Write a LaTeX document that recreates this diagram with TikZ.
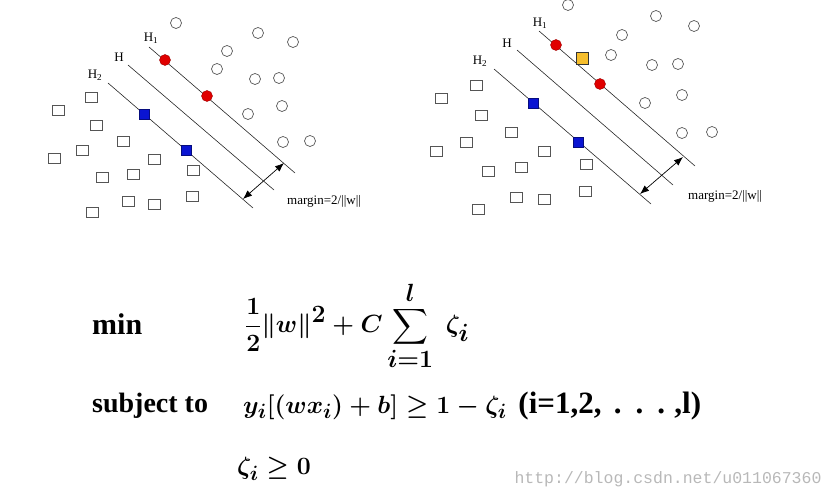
\documentclass[tikz,border=0pt]{standalone}
\usepackage{fontspec}
\usepackage{amsmath}
\usepackage{tikz}
\usepackage{xcolor}
\usetikzlibrary{arrows.meta}
\setmainfont{Liberation Serif}
\newfontfamily\webmono{Liberation Mono}
\definecolor{SvRed}{HTML}{E00000}
\definecolor{SvBlue}{HTML}{0A14D2}
\definecolor{SvGold}{HTML}{F6BE2C}
\definecolor{PtGray}{HTML}{555555}
\definecolor{MarkGray}{HTML}{B8B8B8}

\begin{document}
\begin{tikzpicture}[x=1pt, y=-1pt,
    posdot/.style={circle, draw=PtGray, line width=0.7pt, minimum size=11pt, inner sep=0pt},
    negbox/.style={rectangle, draw=PtGray, line width=0.7pt, minimum width=12pt, minimum height=10pt, inner sep=0pt},
    svdot/.style={circle, draw=SvRed!70!black, fill=SvRed, minimum size=11pt, inner sep=0pt},
    svbox/.style={rectangle, draw=SvBlue!60!black, fill=SvBlue, minimum size=10pt, inner sep=0pt},
    plane/.style={line width=0.6pt, black!85},
    lab/.style={font=\fontsize{13}{13}\selectfont, inner sep=0pt},
    margarrow/.style={{Latex[length=9pt,width=7pt]}-{Latex[length=9pt,width=7pt]}, line width=0.7pt},
    bigtext/.style={font=\fontsize{30}{32}\selectfont\bfseries, inner sep=0pt, anchor=west}
  ]
    \useasboundingbox (0,0) rectangle (837,502);

    % left panel: the separating plane and its margin
    \foreach \px/\py [count=\k] in {176/23, 258/33, 293/42, 227/51, 217/69, 255/79, 279/78, 282/106, 248/114, 283/142, 310/141}
      \node[posdot] (lp\k) at (\px,\py) {};
    \foreach \px/\py [count=\k] in {91/97, 58/110, 96/125, 123/141, 82/150, 54/158, 154/159, 102/177, 133/174, 193/170, 128/201, 154/204, 192/196, 92/212}
      \node[negbox] (ln\k) at (\px,\py) {};

    \coordinate (lh1a) at (149,47);  \coordinate (lh1b) at (295,173);
    \coordinate (lha)  at (128,65);  \coordinate (lhb)  at (274,190);
    \coordinate (lh2a) at (108,83);  \coordinate (lh2b) at (253,208);
    \draw[plane] (lh1a) -- (lh1b);
    \draw[plane] (lha) -- (lhb);
    \draw[plane] (lh2a) -- (lh2b);

    \node[svdot] (lsv1) at (165,60) {};
    \node[svdot] (lsv2) at (207,96) {};
    \node[svbox] (lsv3) at (144,114) {};
    \node[svbox] (lsv4) at (186,150) {};

    \node[lab] (lH1) at (151,38) {H\textsubscript{1}};
    \node[lab] (lH)  at (119,57) {H};
    \node[lab] (lH2) at (95,75) {H\textsubscript{2}};

    \coordinate (lmA) at (243,199);
    \coordinate (lmB) at (284,163);
    \draw[margarrow] (lmA) -- (lmB);
    \node[lab, anchor=west] (lmargin) at (287,201) {margin=2/||w||};

    % right panel: same plane with a point inside the margin
    \foreach \px/\py [count=\k] in {568/5, 656/16, 694/26, 622/35, 611/55, 652/65, 678/64, 682/95, 645/103, 682/133, 712/132}
      \node[posdot] (rp\k) at (\px,\py) {};
    \foreach \px/\py [count=\k] in {476/85, 441/98, 481/115, 511/132, 466/142, 436/151, 544/151, 488/171, 521/167, 586/164, 516/197, 544/199, 585/191, 478/209}
      \node[negbox] (rn\k) at (\px,\py) {};

    \coordinate (rh1a) at (539,31);  \coordinate (rh1b) at (695,166);
    \coordinate (rha)  at (517,50);  \coordinate (rhb)  at (673,185);
    \coordinate (rh2a) at (494,69);  \coordinate (rh2b) at (651,204);
    \draw[plane] (rh1a) -- (rh1b);
    \draw[plane] (rha) -- (rhb);
    \draw[plane] (rh2a) -- (rh2b);

    \node[svdot] (rsv1) at (556,45) {};
    \node[svdot] (rsv2) at (600,84) {};
    \node[svbox] (rsv3) at (533,103) {};
    \node[svbox] (rsv4) at (578,142) {};
    \node[svbox, fill=SvGold, draw=black!80, minimum size=12pt] (rslack) at (582,58) {};

    \node[lab] (rH1) at (540,23) {H\textsubscript{1}};
    \node[lab] (rH)  at (507,43) {H};
    \node[lab] (rH2) at (480,61) {H\textsubscript{2}};

    \coordinate (rmA) at (640,194);
    \coordinate (rmB) at (683,157);
    \draw[margarrow] (rmA) -- (rmB);
    \node[lab, anchor=west] (rmargin) at (688,196) {margin=2/||w||};

    % soft-margin problem
    \node[bigtext] (minword) at (92,324) {min};
    \node[bigtext, font=\fontsize{33}{35}\selectfont\boldmath] (objective) at (245,326)
      {$\displaystyle\frac{1}{2}\|w\|^2+C\sum_{i=1}^{l}\;\zeta_i$};
    \node[bigtext, font=\fontsize{28}{30}\selectfont\bfseries] (subj) at (92,406) {subject to};
    \node[bigtext, font=\fontsize{29}{31}\selectfont\boldmath] (constraint) at (243,406)
      {$y_i[(wx_i)+b]\geq 1-\zeta_i$\hspace{0.4em}{\fontsize{31}{33}\selectfont\bfseries (i=1,2,\hspace{0.4em}.\hspace{0.45em}.\hspace{0.45em}.\hspace{0.3em},l)}};
    \node[bigtext, font=\fontsize{29}{31}\selectfont\boldmath] (slackpos) at (237,469) {$\zeta_i\geq 0$};

    \node[font=\webmono\fontsize{16.5}{16.5}\selectfont, text=MarkGray, inner sep=0pt] (url) at (668,479) {http://blog.csdn.net/u011067360};
\end{tikzpicture}
\end{document}
